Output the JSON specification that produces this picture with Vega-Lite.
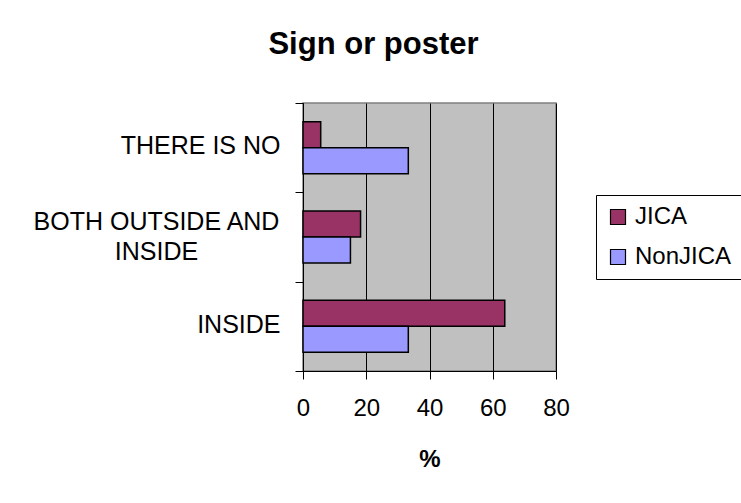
{
  "$schema": "https://vega.github.io/schema/vega-lite/v6.json",
  "width": 253,
  "height": 268,
  "autosize": {"type": "none"},
  "padding": {"left": 303, "top": 103, "right": 185, "bottom": 132},
  "background": "white",
  "title": {
    "text": "Sign or poster",
    "font": "Liberation Sans",
    "fontSize": 31,
    "fontWeight": "bold",
    "color": "black",
    "anchor": "middle",
    "dx": -56,
    "offset": 30
  },
  "data": {
    "values": [
      {"response": "THERE IS NO", "group": "JICA", "percent": 5.6},
      {"response": "THERE IS NO", "group": "NonJICA", "percent": 33.3},
      {"response": "BOTH OUTSIDE AND INSIDE", "group": "JICA", "percent": 18.2},
      {"response": "BOTH OUTSIDE AND INSIDE", "group": "NonJICA", "percent": 15.0},
      {"response": "INSIDE", "group": "JICA", "percent": 63.8},
      {"response": "INSIDE", "group": "NonJICA", "percent": 33.3}
    ]
  },
  "mark": {"type": "bar", "stroke": "black", "strokeWidth": 1.5},
  "encoding": {
    "y": {
      "field": "response",
      "type": "nominal",
      "sort": ["THERE IS NO", "BOTH OUTSIDE AND INSIDE", "INSIDE"],
      "scale": {"paddingInner": 0, "paddingOuter": 0},
      "axis": {
        "title": null,
        "domainColor": "black",
        "tickColor": "black",
        "tickSize": 8,
        "tickBand": "extent",
        "labelFont": "Liberation Sans",
        "labelFontSize": 25,
        "labelColor": "black",
        "labelLimit": 400,
        "labelLineHeight": 30,
        "labelExpr": "datum.value == 'BOTH OUTSIDE AND INSIDE' ? ['BOTH OUTSIDE AND', 'INSIDE'] : datum.value",
        "labelAlign": {"condition": {"test": "datum.value == 'BOTH OUTSIDE AND INSIDE'", "value": "center"}, "value": "right"},
        "labelPadding": {"condition": {"test": "datum.value == 'BOTH OUTSIDE AND INSIDE'", "value": 139}, "value": 15},
        "labelOffset": {"condition": {"test": "datum.value == 'BOTH OUTSIDE AND INSIDE'", "value": -16}, "value": -2}
      }
    },
    "yOffset": {
      "field": "group",
      "sort": ["JICA", "NonJICA"],
      "scale": {"paddingInner": 0, "paddingOuter": 0.72}
    },
    "x": {
      "field": "percent",
      "type": "quantitative",
      "scale": {"domain": [0, 80], "nice": false},
      "axis": {
        "values": [0, 20, 40, 60, 80],
        "grid": true,
        "gridColor": "black",
        "gridOpacity": 1,
        "domainColor": "black",
        "tickColor": "black",
        "tickSize": 8,
        "labelFont": "Liberation Sans",
        "labelFontSize": 24,
        "labelColor": "black",
        "labelPadding": 17,
        "labelFlush": false,
        "title": "%",
        "titleFont": "Liberation Sans",
        "titleFontSize": 24,
        "titleFontWeight": "bold",
        "titleColor": "black",
        "titlePadding": 27
      }
    },
    "color": {
      "field": "group",
      "type": "nominal",
      "scale": {"domain": ["JICA", "NonJICA"], "range": ["#993366", "#9999FF"]},
      "legend": {
        "title": null,
        "orient": "none",
        "legendX": 293,
        "legendY": 92,
        "strokeColor": "black",
        "padding": 10,
        "rowPadding": 16,
        "symbolType": "square",
        "symbolSize": 225,
        "symbolStrokeColor": "black",
        "symbolStrokeWidth": 1.2,
        "symbolOpacity": 1,
        "labelFont": "Liberation Sans",
        "labelFontSize": 24,
        "labelColor": "black",
        "labelOffset": 5
      }
    }
  },
  "config": {
    "view": {"fill": "#C0C0C0", "stroke": "#808080", "strokeWidth": 1.5}
  }
}
